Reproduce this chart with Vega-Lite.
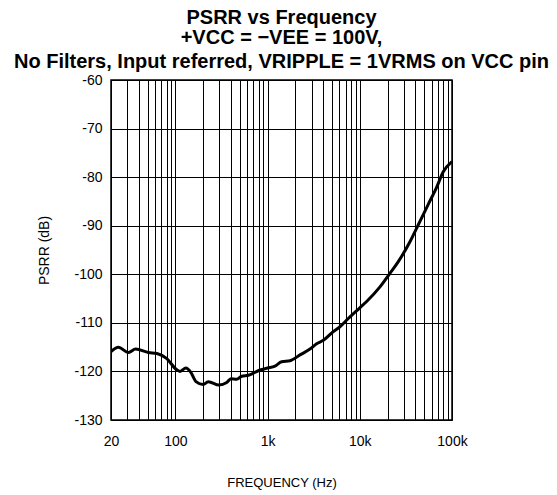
{
  "$schema": "https://vega.github.io/schema/vega-lite/v6.json",
  "width": 341,
  "height": 340,
  "autosize": "none",
  "padding": {"left": 111, "top": 80, "right": 105, "bottom": 75},
  "background": "white",
  "config": {
    "font": "Liberation Sans",
    "view": {"stroke": "black", "strokeWidth": 1.5},
    "axis": {
      "gridColor": "black",
      "gridOpacity": 1,
      "gridWidth": 1,
      "ticks": false,
      "domain": false,
      "labelColor": "black",
      "titleColor": "black",
      "labelFont": "Liberation Sans",
      "titleFont": "Liberation Sans",
      "titleFontWeight": "normal"
    }
  },
  "title": {
    "text": ["PSRR vs Frequency", "+VCC = −VEE = 100V,"],
    "subtitle": "No Filters, Input referred, VRIPPLE = 1VRMS on VCC pin",
    "font": "Liberation Sans",
    "fontSize": 20,
    "fontWeight": "bold",
    "color": "black",
    "lineHeight": 20,
    "subtitleFont": "Liberation Sans",
    "subtitleFontSize": 20,
    "subtitleFontWeight": "bold",
    "subtitleColor": "black",
    "subtitlePadding": 4,
    "anchor": "middle",
    "offset": 1
  },
  "data": {
    "values": [
      {"f": 20, "psrr": -115.9},
      {"f": 24, "psrr": -115.0},
      {"f": 31, "psrr": -116.1},
      {"f": 37, "psrr": -115.4},
      {"f": 51, "psrr": -116.1},
      {"f": 63, "psrr": -116.3},
      {"f": 80, "psrr": -117.3},
      {"f": 101, "psrr": -119.5},
      {"f": 112, "psrr": -120.0},
      {"f": 130, "psrr": -119.3},
      {"f": 147, "psrr": -120.2},
      {"f": 167, "psrr": -122.1},
      {"f": 200, "psrr": -122.7},
      {"f": 227, "psrr": -122.1},
      {"f": 297, "psrr": -122.8},
      {"f": 360, "psrr": -122.3},
      {"f": 400, "psrr": -121.5},
      {"f": 460, "psrr": -121.6},
      {"f": 524, "psrr": -121.0},
      {"f": 618, "psrr": -120.8},
      {"f": 827, "psrr": -119.7},
      {"f": 1000, "psrr": -119.3},
      {"f": 1200, "psrr": -118.9},
      {"f": 1420, "psrr": -118.0},
      {"f": 1750, "psrr": -117.8},
      {"f": 2245, "psrr": -116.6},
      {"f": 2880, "psrr": -115.4},
      {"f": 3400, "psrr": -114.3},
      {"f": 4020, "psrr": -113.6},
      {"f": 5160, "psrr": -111.8},
      {"f": 6090, "psrr": -110.8},
      {"f": 7500, "psrr": -109.1},
      {"f": 10000, "psrr": -106.9},
      {"f": 11860, "psrr": -105.6},
      {"f": 16550, "psrr": -102.6},
      {"f": 21240, "psrr": -99.8},
      {"f": 26150, "psrr": -97.4},
      {"f": 34980, "psrr": -93.3},
      {"f": 44900, "psrr": -89.1},
      {"f": 55250, "psrr": -85.6},
      {"f": 68100, "psrr": -82.1},
      {"f": 80400, "psrr": -78.9},
      {"f": 100000, "psrr": -76.8}
    ]
  },
  "mark": {"type": "line", "color": "black", "strokeWidth": 3, "interpolate": "monotone", "clip": true},
  "encoding": {
    "x": {
      "field": "f",
      "type": "quantitative",
      "scale": {"type": "log", "domain": [20, 100000], "nice": false},
      "axis": {
        "title": "FREQUENCY (Hz)",
        "titleFontSize": 13,
        "titlePadding": 28,
        "labelFontSize": 14,
        "labelPadding": 14,
        "labelFlush": false,
        "labelOverlap": false,
        "values": [20, 30, 40, 50, 60, 70, 80, 90, 100, 200, 300, 400, 500, 600, 700, 800, 900, 1000, 2000, 3000, 4000, 5000, 6000, 7000, 8000, 9000, 10000, 20000, 30000, 40000, 50000, 60000, 70000, 80000, 90000, 100000],
        "labelExpr": "indexof([20, 100, 1000, 10000, 100000], datum.value) >= 0 ? (datum.value >= 1000 ? (datum.value / 1000) + 'k' : datum.value + '') : ''"
      }
    },
    "y": {
      "field": "psrr",
      "type": "quantitative",
      "scale": {"domain": [-130, -60], "nice": false},
      "axis": {
        "title": "PSRR (dB)",
        "titleFontSize": 14,
        "titlePadding": 22,
        "labelFontSize": 14,
        "labelPadding": 9,
        "labelExpr": "datum.value + ''",
        "values": [-130, -120, -110, -100, -90, -80, -70, -60]
      }
    }
  }
}
